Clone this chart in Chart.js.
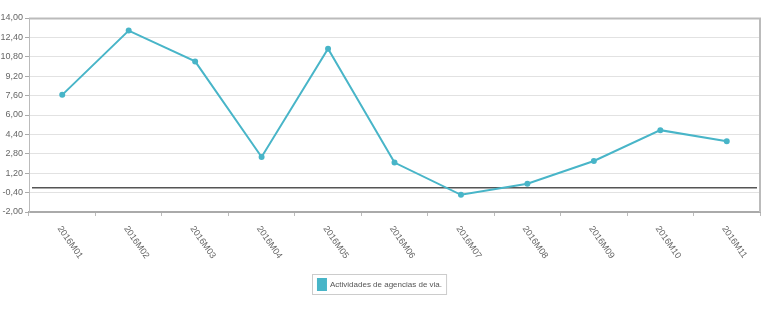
<!DOCTYPE html>
<html>
<head>
<meta charset="utf-8">
<script src="https://cdn.jsdelivr.net/npm/chart.js@4.4.1/dist/chart.umd.min.js"></script>
<style>
  html, body { margin: 0; padding: 0; background: #fff; }
</style>
</head>
<body>
<canvas id="c" width="768" height="317"></canvas>
<script>
var months = ["2016M01","2016M02","2016M03","2016M04","2016M05","2016M06","2016M07","2016M08","2016M09","2016M10","2016M11"];
var values = [7.66, 12.96, 10.42, 2.54, 11.47, 2.08, -0.58, 0.33, 2.21, 4.75, 3.84];
var yTicks = [-2, -0.4, 1.2, 2.8, 4.4, 6, 7.6, 9.2, 10.8, 12.4, 14];
var seriesName = "Actividades de agencias de via.";

var lineColor = '#48b5c8';
var FONT = '"Liberation Sans", sans-serif';

function fmt(v) {
  return v.toFixed(2).replace('.', ',');
}

// frame round the plot, zero line, slanted month labels, legend box
var extras = {
  id: 'extras',
  beforeDatasetsDraw: function(chart) {
    var a = chart.chartArea, ctx = chart.ctx;
    var y0 = chart.scales.y.getPixelForValue(0);
    ctx.save();
    ctx.strokeStyle = '#bbb';
    ctx.lineWidth = 2;
    ctx.beginPath();
    ctx.moveTo(a.left, a.top + 0.5);
    ctx.lineTo(a.right, a.top + 0.5);
    ctx.lineTo(a.right, a.bottom);
    ctx.stroke();
    ctx.strokeStyle = '#555';
    ctx.lineWidth = 1.5;
    ctx.beginPath();
    ctx.moveTo(a.left + 3, y0);
    ctx.lineTo(a.right - 3, y0);
    ctx.stroke();
    ctx.restore();
  },
  afterDraw: function(chart) {
    var ctx = chart.ctx, xs = chart.scales.x, a = chart.chartArea;
    ctx.save();
    ctx.fillStyle = '#666';
    ctx.font = '9px ' + FONT;
    ctx.textAlign = 'left';
    ctx.textBaseline = 'middle';
    for (var i = 0; i < months.length; i++) {
      var x = xs.getPixelForTick(i);
      ctx.save();
      ctx.translate(x - 3, a.bottom + 15);
      ctx.rotate(55 * Math.PI / 180);
      ctx.fillText(months[i], 0, 0);
      ctx.restore();
    }
    var hb = chart.legend.legendHitBoxes[0];
    if (hb) {
      ctx.strokeStyle = '#ccc';
      ctx.lineWidth = 1;
      ctx.strokeRect(Math.round(hb.left) - 5.5, Math.round(hb.top) - 4.5, hb.width + 10, hb.height + 9);
    }
    ctx.restore();
  }
};

new Chart(document.getElementById('c'), {
  type: 'line',
  data: {
    labels: months,
    datasets: [{
      label: seriesName,
      data: values,
      borderColor: lineColor,
      backgroundColor: lineColor,
      borderWidth: 2,
      pointRadius: 2,
      pointHoverRadius: 3,
      tension: 0
    }]
  },
  options: {
    responsive: false,
    animation: false,
    devicePixelRatio: 1,
    layout: { padding: { left: 0, right: 8, top: 18, bottom: 17 } },
    plugins: {
      tooltip: { enabled: false },
      legend: {
        position: 'bottom',
        labels: {
          color: '#555',
          font: { family: FONT, size: 8 },
          boxWidth: 8,
          boxHeight: 11,
          padding: 8
        }
      }
    },
    scales: {
      x: {
        offset: true,
        afterFit: function(s) { s.height = 59; },
        grid: { offset: true, drawOnChartArea: false, tickLength: 4, color: '#bbb' },
        border: { color: '#aaa', width: 2 },
        ticks: { display: false }
      },
      y: {
        min: -2,
        max: 14,
        afterFit: function(s) { s.width = 29; },
        afterBuildTicks: function(s) {
          s.ticks = yTicks.map(function(v) { return { value: v }; });
        },
        grid: { color: '#e2e2e2', tickLength: 4, tickColor: '#aaa' },
        border: { color: '#bbb', width: 1 },
        ticks: {
          color: '#666',
          padding: 2,
          font: { family: FONT, size: 9 },
          callback: function(v) { return fmt(v); }
        }
      }
    }
  },
  plugins: [extras]
});
</script>
</body>
</html>
